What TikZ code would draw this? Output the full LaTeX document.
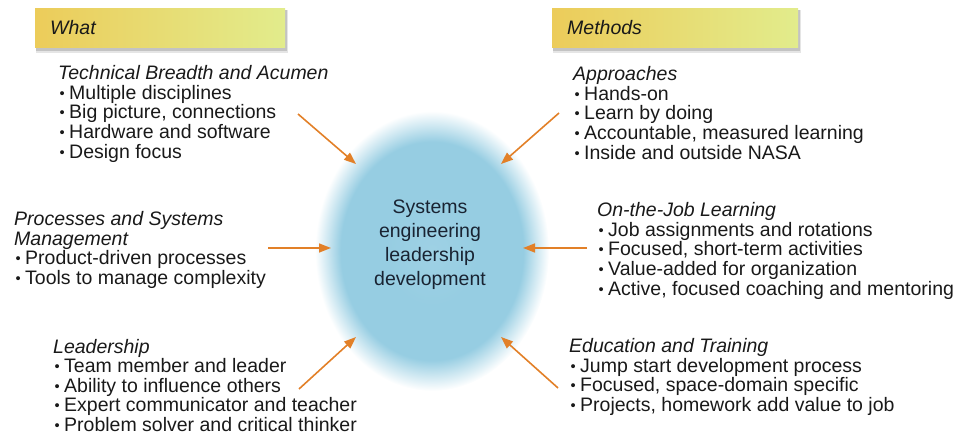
\documentclass[tikz,border=0pt]{standalone}
\usepackage{fontspec}
\setmainfont{Liberation Sans}
\usetikzlibrary{arrows.meta}
\definecolor{blobc}{RGB}{150,205,226}
\definecolor{arr}{RGB}{226,128,40}
\definecolor{goldL}{RGB}{236,204,90}
\definecolor{goldR}{RGB}{226,236,140}
\definecolor{txt}{RGB}{25,25,25}
\definecolor{ctxt}{RGB}{25,35,50}
\pgfdeclareradialshading{blob}{\pgfpointorigin}{color(0bp)=(blobc!92!white); color(10bp)=(blobc); color(19.5bp)=(blobc); color(22.2bp)=(blobc!50!white); color(25bp)=(white); color(50bp)=(white)}
\newcommand{\bul}{\makebox[11pt][l]{\hspace{1.5pt}\raisebox{1pt}{\scalebox{0.75}{•}}}}
\begin{document}
\begin{tikzpicture}[x=1pt,y=-1pt,
  every node/.style={inner sep=0pt, text=txt},
  block/.style={anchor=north west, align=left, font=\fontsize{19.5}{19.75}\selectfont},
  tagbox/.style={minimum height=39pt, text width=220pt, inner xsep=15pt, align=left,
    left color=goldL, right color=goldR, font=\fontsize{19.5}{20}\selectfont\itshape},
  arrowline/.style={draw=arr, line width=1.6pt, -{Triangle[length=12pt,width=9pt]}}]
\useasboundingbox (0,0) rectangle (964,435);

% central glow
\shade[shading=blob] (432,251) ellipse [x radius=117, y radius=140];
\node[font=\fontsize{19.5}{24}\selectfont, align=center, text=ctxt] (core) at (430,245)
  {Systems\\engineering\\leadership\\development};

% header boxes with shadows
\fill[black, opacity=0.10] (36,10) rectangle (288,53);
\fill[black, opacity=0.15] (36,10) rectangle (287,51);
\node[tagbox, anchor=north west] (what) at (35,8) {What};
\fill[black, opacity=0.10] (553,10) rectangle (801,53);
\fill[black, opacity=0.15] (553,10) rectangle (800,51);
\node[tagbox, anchor=north west, text width=216pt] (methods) at (552,8) {Methods};

% left blocks
\node[block] (tech) at (58,65) {\textit{Technical Breadth and Acumen}\\
  \bul Multiple disciplines\\ \bul Big picture, connections\\
  \bul Hardware and software\\ \bul Design focus};
\node[block] (proc) at (14,211) {\textit{Processes and Systems}\\ \textit{Management}\\
  \bul Product-driven processes\\ \bul Tools to manage complexity};
\node[block, font=\fontsize{19.5}{19.5}\selectfont] (lead) at (53,339) {\textit{Leadership}\\
  \bul Team member and leader\\ \bul Ability to influence others\\
  \bul Expert communicator and teacher\\ \bul Problem solver and critical thinker};

% right blocks
\node[block] (appr) at (573,66) {\textit{Approaches}\\
  \bul Hands-on\\ \bul Learn by doing\\
  \bul Accountable, measured learning\\ \bul Inside and outside NASA};
\node[block] (ojl) at (597,202) {\textit{On-the-Job Learning}\\
  \bul Job assignments and rotations\\ \bul Focused, short-term activities\\
  \bul Value-added for organization\\ \bul Active, focused coaching and mentoring};
\node[block] (edu) at (569,338) {\textit{Education and Training}\\
  \bul Jump start development process\\ \bul Focused, space-domain specific\\
  \bul Projects, homework add value to job};

% arrow endpoints
\coordinate (tlA) at (298,114); \coordinate (tlB) at (356,164);
\coordinate (trA) at (559,113); \coordinate (trB) at (501,164);
\coordinate (mlA) at (268,248); \coordinate (mlB) at (331,248);
\coordinate (mrA) at (587,248); \coordinate (mrB) at (523,248);
\coordinate (blA) at (299,389); \coordinate (blB) at (356,337);
\coordinate (brA) at (558,388); \coordinate (brB) at (501,337);

\draw[arrowline] (tlA) -- (tlB);
\draw[arrowline] (trA) -- (trB);
\draw[arrowline] (mlA) -- (mlB);
\draw[arrowline] (mrA) -- (mrB);
\draw[arrowline] (blA) -- (blB);
\draw[arrowline] (brA) -- (brB);
\end{tikzpicture}
\end{document}
